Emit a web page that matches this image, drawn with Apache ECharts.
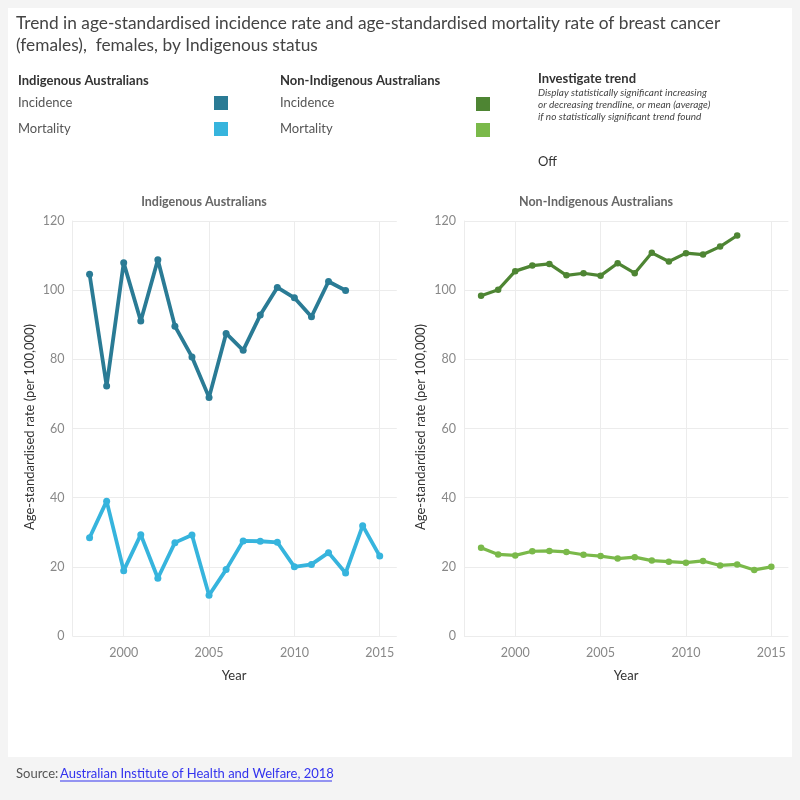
<!DOCTYPE html>
<html><head><meta charset="utf-8">
<script src="https://cdn.jsdelivr.net/npm/echarts@6/dist/echarts.min.js"></script>
<style>html,body{margin:0;padding:0;background:#f4f4f4}#c{width:800px;height:800px}</style>
</head><body><div id="c"></div>
<script>
const years = [1998,1999,2000,2001,2002,2003,2004,2005,2006,2007,2008,2009,2010,2011,2012,2013,2014,2015];
const indigIncidence = [104.6,72.3,107.9,91.1,108.8,89.6,80.7,69.0,87.5,82.6,92.8,100.8,97.8,92.3,102.5,99.9,null,null];
const indigMortality = [28.4,39.0,18.9,29.3,16.7,27.0,29.2,11.8,19.2,27.5,27.4,27.1,20.0,20.7,24.1,18.2,31.9,23.1];
const nonIndigIncidence = [98.4,100.1,105.5,107.1,107.6,104.3,104.9,104.2,107.8,104.9,110.8,108.3,110.7,110.3,112.6,115.8,null,null];
const nonIndigMortality = [25.5,23.6,23.3,24.5,24.6,24.3,23.5,23.1,22.4,22.8,21.8,21.5,21.2,21.7,20.4,20.7,19.1,20.0];
const xTickYears = [2000,2005,2010,2015];

const FONT = "Lato, 'Noto Sans', sans-serif";
const colors = {ii:'#2a7b95', im:'#36b4dd', ni:'#4e8533', nm:'#7ab94a'};
const gridColor = '#ececec';

function pairs(vals){ return years.map((y,i)=>[y, vals[i]]); }

function xAx(gi){
  return {type:'value', gridIndex:gi, min:1997, max:2016, interval:1,
    axisLine:{show:false}, axisTick:{show:false}, splitLine:{show:false},
    axisLabel:{color:'#888', fontSize:12.5, fontFamily:FONT, margin:10,
      formatter:v=> xTickYears.indexOf(v)>=0 ? String(v) : ''}};
}
function yAx(gi){
  return {type:'value', gridIndex:gi, min:0, max:120, interval:20,
    axisLine:{show:true, lineStyle:{color:gridColor}}, axisTick:{show:false},
    splitLine:{show:true, lineStyle:{color:gridColor, width:1}},
    axisLabel:{color:'#888', fontSize:12.5, fontFamily:FONT, margin:8}};
}
function vGrid(){
  return {silent:true, symbol:'none', label:{show:false},
    lineStyle:{color:gridColor, type:'solid', width:1},
    data: xTickYears.map(y=>({xAxis:y}))};
}
function line(name, gi, vals, col, w, s, withGrid){
  const o = {name, type:'line', xAxisIndex:gi, yAxisIndex:gi, data:pairs(vals),
    connectNulls:false, symbol:'circle', symbolSize:s, showSymbol:true,
    lineStyle:{color:col, width:w}, itemStyle:{color:col}, z:5};
  if (withGrid) o.markLine = vGrid();
  return o;
}

const txt = (x,y,t,o)=>({type:'text', left:x, top:y, style:Object.assign({text:t, fill:'#333', font:'13px '+FONT}, o||{})});

const chart = echarts.init(document.getElementById('c'), null, {renderer:'canvas'});
chart.setOption({
  backgroundColor:'#f4f4f4',
  animation:false,
  grid:[
    {left:72.5, right:403.2, top:221, bottom:164, containLabel:false},
    {left:464, right:11.6, top:221, bottom:164, containLabel:false}
  ],
  xAxis:[xAx(0), xAx(1)],
  yAxis:[yAx(0), yAx(1)],
  series:[
    line('Indigenous Incidence',0,indigIncidence,colors.ii,3.8,7,true),
    line('Indigenous Mortality',0,indigMortality,colors.im,3.8,7,false),
    line('Non-Indigenous Incidence',1,nonIndigIncidence,colors.ni,3.2,6.5,true),
    line('Non-Indigenous Mortality',1,nonIndigMortality,colors.nm,3.2,6.5,false)
  ],
  graphic:[
    {type:'rect', left:8, top:8, z:-10, shape:{width:784, height:749}, style:{fill:'#ffffff'}},
    txt(16,15,'Trend in age-standardised incidence rate and age-standardised mortality rate of breast cancer',{font:'17.3px '+FONT, fill:'#444'}),
    txt(16,37,'(females),  females, by Indigenous status',{font:'17.3px '+FONT, fill:'#444'}),
    txt(18,74,'Indigenous Australians',{font:'bold 13px '+FONT}),
    txt(18,96,'Incidence',{fill:'#555'}),
    txt(18,122,'Mortality',{fill:'#555'}),
    {type:'rect', left:214, top:96, shape:{width:14,height:14}, style:{fill:colors.ii}},
    {type:'rect', left:214, top:122, shape:{width:14,height:14}, style:{fill:colors.im}},
    txt(280,74,'Non-Indigenous Australians',{font:'bold 13px '+FONT}),
    txt(280,96,'Incidence',{fill:'#555'}),
    txt(280,122,'Mortality',{fill:'#555'}),
    {type:'rect', left:476, top:97, shape:{width:14,height:14}, style:{fill:colors.ni}},
    {type:'rect', left:476, top:123, shape:{width:14,height:14}, style:{fill:colors.nm}},
    txt(538,72,'Investigate trend',{font:'bold 13px '+FONT}),
    txt(538,88,'Display statistically significant increasing',{font:'italic 10px '+FONT, fill:'#444'}),
    txt(538,100,'or decreasing trendline, or mean (average)',{font:'italic 10px '+FONT, fill:'#444'}),
    txt(538,112,'if no statistically significant trend found',{font:'italic 10px '+FONT, fill:'#444'}),
    txt(538,155,'Off',{fill:'#333'}),
    {type:'text', x:204, y:202, style:{text:'Indigenous Australians', font:'bold 12.5px '+FONT, fill:'#666', align:'center', verticalAlign:'middle'}},
    {type:'text', x:596, y:202, style:{text:'Non-Indigenous Australians', font:'bold 12.5px '+FONT, fill:'#666', align:'center', verticalAlign:'middle'}},
    {type:'text', x:30, y:427, rotation:Math.PI/2, style:{text:'Age-standardised rate (per 100,000)', font:'13px '+FONT, fill:'#333', align:'center', verticalAlign:'middle'}},
    {type:'text', x:421, y:427, rotation:Math.PI/2, style:{text:'Age-standardised rate (per 100,000)', font:'13px '+FONT, fill:'#333', align:'center', verticalAlign:'middle'}},
    {type:'text', x:234, y:676, style:{text:'Year', font:'13px '+FONT, fill:'#333', align:'center', verticalAlign:'middle'}},
    {type:'text', x:626, y:676, style:{text:'Year', font:'13px '+FONT, fill:'#333', align:'center', verticalAlign:'middle'}},
    txt(16,767,'Source: ',{fill:'#555'}),
    {type:'text', left:60, top:767, style:{text:'Australian Institute of Health and Welfare, 2018', font:'13px '+FONT, fill:'#3333ee'}},
    {type:'line', shape:{x1:60, y1:781, x2:332, y2:781}, style:{stroke:'#3333ee', lineWidth:1}}
  ]
});
</script></body></html>
